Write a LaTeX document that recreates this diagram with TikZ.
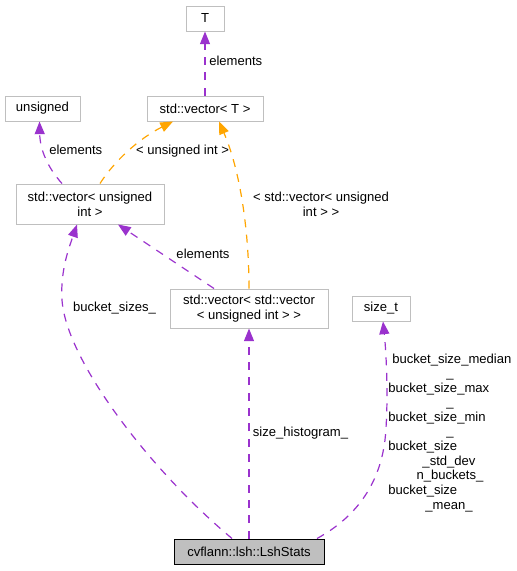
\documentclass[tikz,border=0pt]{standalone}
\usepackage{fontspec}
\setmainfont{Liberation Sans}
\usetikzlibrary{arrows.meta,calc}

\definecolor{darkorchid}{HTML}{9A32CD}
\definecolor{graphorange}{HTML}{FFA500}
\definecolor{grey75}{HTML}{BFBFBF}

\begin{document}
\begin{tikzpicture}
[
                 x =  0.75pt,
                 y = -0.75pt,
                >= {Triangle[length=9.5pt,width=7.5pt]},
              font = \fontsize{9.8pt}{11pt}\selectfont,
        cls/.style = { draw=grey75, fill=white, line width=0.75pt, inner sep=0pt, align=center, minimum height=18.75pt },
       main/.style = { cls, draw=black, fill=grey75 },
        rel/.style = { ->, draw=darkorchid, line width=0.9pt, dash pattern=on 6pt off 5.5pt },
       inst/.style = { rel, draw=graphorange },
        lbl/.style = { inner sep=0pt, text height=7pt, text depth=2pt, anchor=west },
       lblc/.style = { lbl, anchor=center, align=center }
]

	\useasboundingbox (0,0) rectangle (517,571);

	\node (T)       at (205  , 18.5) [cls, minimum width=28.5pt] {T};
	\node (unsgn)   at (42.5 ,108.5) [cls, minimum width=56.25pt] {unsigned};
	\node (vecT)    at (205  ,108.5) [cls, minimum width=87pt] {std::vector< T >};
	\node (vecUInt) at (90   ,204  ) [cls, minimum width=111pt, minimum height=30pt] {std::vector< unsigned\\int >};
	\node (vecVec)  at (249  ,308.5) [cls, minimum width=118.5pt, minimum height=29.25pt] {std::vector< std::vector\\< unsigned int > >};
	\node (sizeT)   at (381  ,308.5) [cls, minimum width=43.5pt] {size\_t};
	\node (stats)   at (249  ,551.5) [main, minimum width=112.5pt] {cvflann::lsh::LshStats};

	\node (l1)  at (209  , 62) [lbl]  {elements};
	\node (l2)  at (49   ,151) [lbl]  {elements};
	\node (l3)  at (182.5,151) [lblc] {< unsigned int >};
	\node (l4)  at (321  ,204) [lblc, text height=, text depth=] {< std::vector< unsigned\\int > >};
	\node (l5)  at (203  ,255) [lblc] {elements};
	\node (l6)  at (114.5,308) [lblc] {bucket\_sizes\_};
	\node (l7)  at (300.5,433) [lblc] {size\_histogram\_};

	\node (r1)  at (392,360) [lbl]  {bucket\_size\_median};
	\node (r2)  at (450,374) [lblc] {\_};
	\node (r3)  at (388,389) [lbl]  {bucket\_size\_max};
	\node (r4)  at (450,403) [lblc] {\_};
	\node (r5)  at (388,418) [lbl]  {bucket\_size\_min};
	\node (r6)  at (450,432) [lblc] {\_};
	\node (r7)  at (388,447) [lbl]  {bucket\_size};
	\node (r8)  at (449,462) [lblc] {\_std\_dev};
	\node (r9)  at (450,476) [lblc] {n\_buckets\_};
	\node (r10) at (388,491) [lbl]  {bucket\_size};
	\node (r11) at (449,506) [lblc] {\_mean\_};

	\draw[rel]  (vecT) -- (T);
	\draw[rel]  ($(vecUInt.north)+(-28,0)$) .. controls (48,168) and (40,150) .. ($(unsgn.south)+(-3,0)$);
	\draw[inst] ($(vecUInt.north)+(10,0)$) .. controls (115,160) and (140,138) .. ($(vecT.south)+(-32,0)$);
	\draw[inst] (vecVec.north) .. controls (249,230) and (240,170) .. ($(vecT.south)+(14,0)$);
	\draw[rel]  ($(vecVec.north)+(-35,0)$) -- ($(vecUInt.south)+(28,0)$);

	\draw[rel]  ($(stats.north)+(-17,0)$) .. controls (150,470) and (66,360) .. (62,300)
	            .. controls (60,270) and (70,245) .. ($(vecUInt.south)+(-13,0)$);
	\draw[rel]  (stats) -- (vecVec);
	\draw[rel]  ($(stats.north)+(68,0)$) .. controls (360,515) and (380,480) .. (385,440)
	            .. controls (389,400) and (386,350) .. ($(sizeT.south)+(2,0)$);

\end{tikzpicture}
\end{document}
